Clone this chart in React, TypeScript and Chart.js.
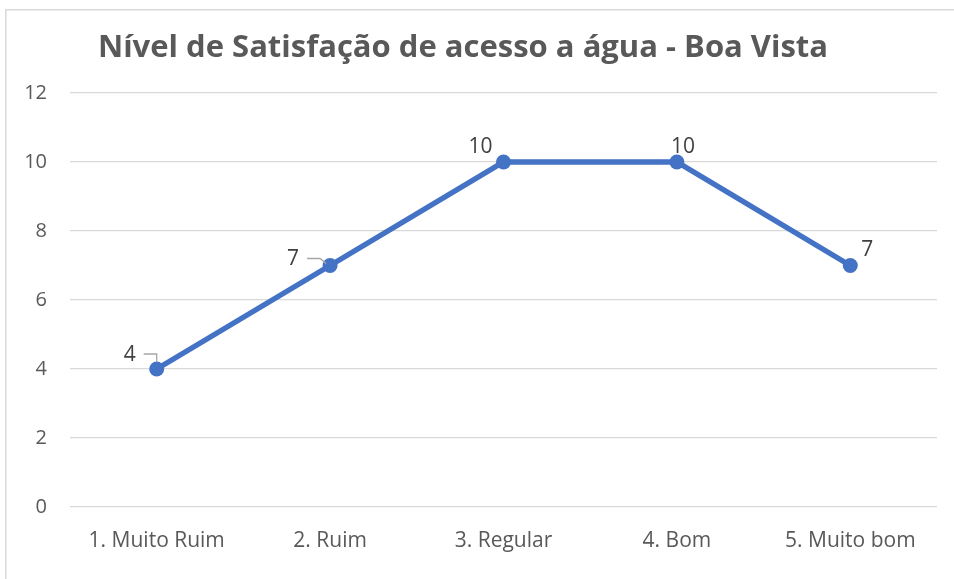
import React, { useEffect, useRef } from "react";
import { Chart, registerables } from "chart.js";

Chart.register(...registerables);

const categories = ["1. Muito Ruim", "2. Ruim", "3. Regular", "4. Bom", "5. Muito bom"];
const values = [4, 7, 10, 10, 7];
const yTickValues = [0, 2, 4, 6, 8, 10, 12];
const chartTitle = "Nível de Satisfação de acesso a água - Boa Vista";

// styling: label offsets relative to each point (px)
const labelOffsets: [number, number][] = [
  [-27, -14],
  [-37, -6],
  [-23, -15],
  [6, -15],
  [17, -15],
];

const FONT = "'Open Sans', 'Noto Sans', sans-serif";

const decorPlugin = {
  id: "decor",
  beforeDraw(chart: any) {
    const ctx = chart.ctx;
    ctx.save();
    ctx.fillStyle = "#ffffff";
    ctx.fillRect(0, 0, chart.width, chart.height);
    ctx.strokeStyle = "#d9d9d9";
    ctx.lineWidth = 1.5;
    ctx.beginPath();
    ctx.moveTo(5.75, chart.height);
    ctx.lineTo(5.75, 9.75);
    ctx.lineTo(chart.width, 9.75);
    ctx.stroke();
    ctx.fillStyle = "#595959";
    ctx.font = `bold 31px ${FONT}`;
    ctx.textAlign = "center";
    ctx.textBaseline = "middle";
    ctx.fillText(chartTitle, 463, 48);
    ctx.restore();
  },
  afterDatasetsDraw(chart: any) {
    const ctx = chart.ctx;
    const meta = chart.getDatasetMeta(0);
    ctx.save();
    // leader lines
    ctx.strokeStyle = "#a6a6a6";
    ctx.lineWidth = 1.3;
    const p0 = meta.data[0];
    ctx.beginPath();
    ctx.moveTo(p0.x - 13, p0.y - 15);
    ctx.lineTo(p0.x, p0.y - 15);
    ctx.lineTo(p0.x, p0.y - 7);
    ctx.stroke();
    const p1 = meta.data[1];
    ctx.beginPath();
    ctx.moveTo(p1.x - 23, p1.y - 7);
    ctx.lineTo(p1.x - 10, p1.y - 7);
    ctx.lineTo(p1.x - 4, p1.y - 2);
    ctx.stroke();
    ctx.fillStyle = "#404040";
    ctx.font = `21px ${FONT}`;
    ctx.textAlign = "center";
    ctx.textBaseline = "middle";
    meta.data.forEach((pt: any, i: number) => {
      const [dx, dy] = labelOffsets[i];
      ctx.fillText(String(values[i]), pt.x + dx, pt.y + dy);
    });
    ctx.restore();
  },
};

export default function App() {
  const ref = useRef<HTMLCanvasElement>(null);
  useEffect(() => {
    if (!ref.current) return;
    const chart = new Chart(ref.current, {
      type: "line",
      data: {
        labels: categories,
        datasets: [
          {
            data: values,
            borderColor: "#4472C4",
            backgroundColor: "#4472C4",
            borderWidth: 5.5,
            pointRadius: 7.5,
            pointBackgroundColor: "#4472C4",
            pointBorderColor: "#4472C4",
            pointBorderWidth: 0,
            tension: 0,
          },
        ],
      },
      options: {
        animation: false,
        responsive: false,
        devicePixelRatio: 1,
        layout: { padding: { top: 93, right: 17, left: 0, bottom: 0 } },
        plugins: {
          legend: { display: false },
          title: { display: false },
          tooltip: { enabled: false },
        },
        scales: {
          x: {
            offset: true,
            grid: { display: false, drawTicks: false },
            border: { display: false },
            ticks: {
              color: "#595959",
              font: { family: FONT, size: 21 },
              padding: 21,
              maxRotation: 0,
              autoSkip: false,
            },
            afterFit(scale: any) {
              scale.height = 72;
            },
          },
          y: {
            min: 0,
            max: 12,
            afterBuildTicks(scale: any) {
              scale.ticks = yTickValues.map((v) => ({ value: v }));
            },
            grid: { color: "#d9d9d9", lineWidth: 1.3, drawTicks: false },
            border: { display: false },
            ticks: {
              color: "#595959",
              font: { family: FONT, size: 20 },
              padding: 23,
            },
            afterFit(scale: any) {
              scale.width = 70;
            },
          },
        },
      },
      plugins: [decorPlugin],
    });
    return () => chart.destroy();
  }, []);
  return (
    <div style={{ position: "fixed", left: 0, top: 0, width: 954, height: 579, background: "#fff" }}>
      <canvas ref={ref} width={954} height={579} style={{ display: "block" }} />
    </div>
  );
}
